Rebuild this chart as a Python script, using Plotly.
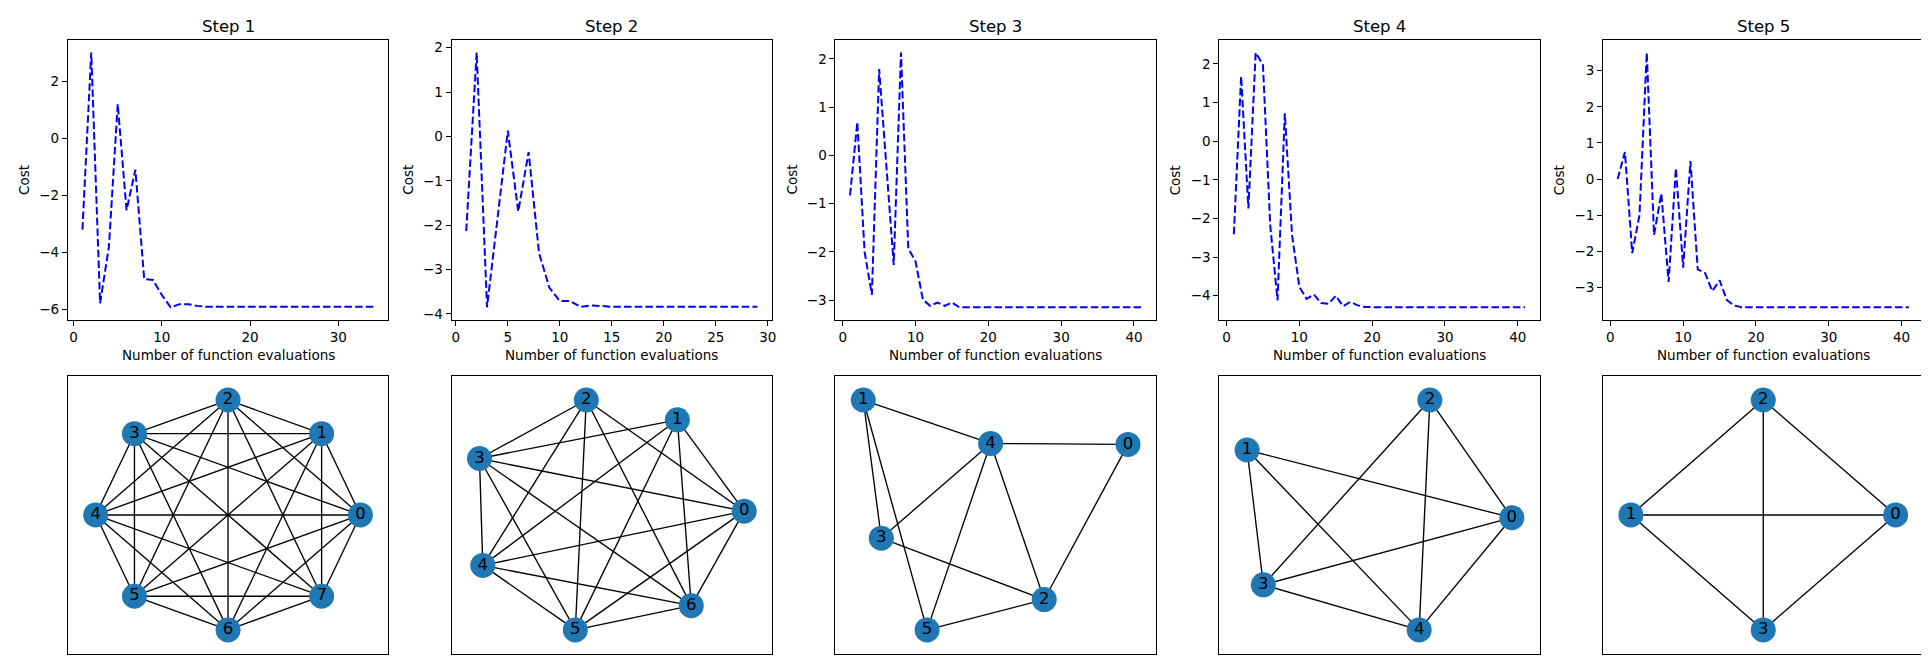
import plotly.graph_objects as go

# ---------------- data ----------------
step_titles = ["Step 1", "Step 2", "Step 3", "Step 4", "Step 5"]

cost_step1 = [-3.2, 3.0, -5.78, -3.8, 1.2, -2.52, -1.1, -4.93, -4.96, -5.49, -5.92, -5.81, -5.81, -5.87,
              -5.9, -5.9, -5.9, -5.9, -5.9, -5.9, -5.9, -5.9, -5.9, -5.9, -5.9, -5.9, -5.9, -5.9, -5.9,
              -5.9, -5.9, -5.9, -5.9, -5.9]
cost_step2 = [-2.13, 1.89, -3.85, -1.9, 0.13, -1.69, -0.35, -2.63, -3.41, -3.71, -3.71, -3.84, -3.81, -3.82,
              -3.84, -3.84, -3.84, -3.84, -3.84, -3.84, -3.84, -3.84, -3.84, -3.84, -3.84, -3.84, -3.84,
              -3.84, -3.84]
cost_step3 = [-0.83, 0.69, -2.0, -2.89, 1.79, -0.3, -2.27, 2.13, -1.93, -2.2, -2.99, -3.12, -3.05, -3.12,
              -3.05, -3.15, -3.15, -3.15, -3.15, -3.15, -3.15, -3.15, -3.15, -3.15, -3.15, -3.15, -3.15,
              -3.15, -3.15, -3.15, -3.15, -3.15, -3.15, -3.15, -3.15, -3.15, -3.15, -3.15, -3.15, -3.15,
              -3.15]
cost_step4 = [-2.41, 1.68, -1.74, 2.29, 1.97, -2.18, -4.12, 0.72, -2.44, -3.77, -4.08, -3.97, -4.19, -4.21,
              -4.0, -4.27, -4.16, -4.25, -4.29, -4.3, -4.3, -4.3, -4.3, -4.3, -4.3, -4.3, -4.3, -4.3, -4.3,
              -4.3, -4.3, -4.3, -4.3, -4.3, -4.3, -4.3, -4.3, -4.3, -4.3, -4.3, -4.3]
cost_step5 = [0.0, 0.75, -2.05, -1.0, 3.5, -1.55, -0.4, -2.85, 0.3, -2.45, 0.5, -2.5, -2.6, -3.1,
              -2.8, -3.35, -3.5, -3.55, -3.55, -3.55, -3.55, -3.55, -3.55, -3.55, -3.55, -3.55, -3.55,
              -3.55, -3.55, -3.55, -3.55, -3.55, -3.55, -3.55, -3.55, -3.55, -3.55, -3.55, -3.55, -3.55,
              -3.55]
costs = [cost_step1, cost_step2, cost_step3, cost_step4, cost_step5]

xtick_vals = [[0, 10, 20, 30],
              [0, 5, 10, 15, 20, 25, 30],
              [0, 10, 20, 30, 40],
              [0, 10, 20, 30, 40],
              [0, 10, 20, 30, 40]]
ytick_vals = [[-6, -4, -2, 0, 2],
              [-4, -3, -2, -1, 0, 1, 2],
              [-3, -2, -1, 0, 1, 2],
              [-4, -3, -2, -1, 0, 1, 2],
              [-3, -2, -1, 0, 1, 2, 3]]

# graph layouts (node positions) and edges for each step
g1_x = [1.0, 0.707, 0.0, -0.707, -1.0, -0.707, 0.0, 0.707]
g1_y = [0.0, 0.707, 1.0, 0.707, 0.0, -0.707, -1.0, -0.707]
g1_edges = [(0, 1), (0, 2), (0, 3), (0, 4), (0, 5), (0, 6), (0, 7),
            (1, 2), (1, 3), (1, 4), (1, 5), (1, 6), (1, 7),
            (2, 3), (2, 4), (2, 5), (2, 6), (2, 7),
            (3, 4), (3, 5), (3, 6), (3, 7),
            (4, 5), (4, 6), (4, 7),
            (5, 6), (5, 7),
            (6, 7)]

g2_x = [1.0, 0.495, -0.193, -1.0, -0.975, -0.276, 0.6]
g2_y = [0.033, 0.828, 1.0, 0.491, -0.439, -1.0, -0.789]
g2_edges = [(0, 1), (0, 2), (0, 3), (0, 4), (0, 5), (0, 6),
            (1, 3), (1, 4), (1, 5), (1, 6),
            (2, 3), (2, 4), (2, 5), (2, 6),
            (3, 4), (3, 5), (3, 6),
            (4, 5), (4, 6), (5, 6)]

g3_x = [1.0, -1.0, 0.367, -0.864, -0.038, -0.518]
g3_y = [0.614, 1.0, -0.736, -0.202, 0.622, -1.0]
g3_edges = [(1, 4), (1, 3), (1, 5), (4, 0), (4, 3), (4, 5), (4, 2), (0, 2), (3, 2), (5, 2)]

g4_x = [1.0, -1.0, 0.381, -0.877, 0.3]
g4_y = [-0.024, 0.565, 1.0, -0.608, -1.0]
g4_edges = [(0, 1), (0, 2), (0, 3), (0, 4), (1, 3), (1, 4), (2, 3), (2, 4), (3, 4)]

g5_x = [1.0, -1.0, 0.0, 0.0]
g5_y = [0.0, 0.0, 1.0, -1.0]
g5_edges = [(0, 1), (0, 2), (0, 3), (1, 2), (1, 3), (2, 3)]

graphs = [(g1_x, g1_y, g1_edges), (g2_x, g2_y, g2_edges), (g3_x, g3_y, g3_edges),
          (g4_x, g4_y, g4_edges), (g5_x, g5_y, g5_edges)]

# ---------------- layout geometry (pixels) ----------------
W, H = 1929, 658
PANEL_LEFT0 = 60.0
PANEL_STEP = 384.6
PANEL_W = 321.0
TOP_ROW = (32.0, 313.0)
BOT_ROW = (369.0, 648.0)
FONT = "DejaVu Sans"

def px_to_xdom(a, b):
    return [a / W, b / W]

def px_to_ydom(top, bottom):
    return [1 - bottom / H, 1 - top / H]

def mpl_range(vals, frac=0.05):
    lo, hi = min(vals), max(vals)
    m = (hi - lo) * frac
    return [lo - m, hi + m]

fig = go.Figure()
layout = dict(width=W, height=H, margin=dict(l=0, r=0, t=0, b=0), autosize=False,
              paper_bgcolor="white", plot_bgcolor="white", showlegend=False,
              font=dict(family=FONT, color="black", size=13.5))
annotations = []

axis_common = dict(showline=True, linecolor="black", linewidth=1.1, mirror=True,
                   showgrid=False, zeroline=False)

for i in range(5):
    left = PANEL_LEFT0 + PANEL_STEP * i
    right = left + PANEL_W
    k = i + 1
    cost = costs[i]
    evals = list(range(1, len(cost) + 1))
    fig.add_trace(go.Scatter(x=evals, y=cost, mode="lines",
                             line=dict(color="blue", width=2, dash="7.5px,3.2px"),
                             xaxis=f"x{k}", yaxis=f"y{k}", hoverinfo="skip"))
    layout[f"xaxis{k}"] = dict(domain=px_to_xdom(left, right), anchor=f"y{k}",
                               range=mpl_range(evals), tickvals=xtick_vals[i],
                               ticks="outside", ticklen=5, tickwidth=1.1, tickcolor="black",
                               tickfont=dict(size=13.5, family=FONT, color="black"), **axis_common)
    layout[f"yaxis{k}"] = dict(domain=px_to_ydom(*TOP_ROW), anchor=f"x{k}",
                               range=mpl_range(cost), tickvals=ytick_vals[i],
                               ticks="outside", ticklen=5, tickwidth=1.1, tickcolor="black",
                               tickfont=dict(size=13.5, family=FONT, color="black"), **axis_common)
    cx = (left + right) / 2 / W
    annotations.append(dict(text=step_titles[i], x=cx, y=1 - 18.3 / H, xref="paper", yref="paper",
                            showarrow=False, xanchor="center", yanchor="middle",
                            font=dict(size=16.5, family=FONT, color="black")))
    annotations.append(dict(text="Number of function evaluations", x=cx, y=1 - 348.3 / H,
                            xref="paper", yref="paper", showarrow=False, xanchor="center",
                            yanchor="middle", font=dict(size=13.5, family=FONT, color="black")))
    annotations.append(dict(text="Cost", x=(left - 44) / W, y=1 - (TOP_ROW[0] + TOP_ROW[1]) / 2 / H,
                            xref="paper", yref="paper", showarrow=False, xanchor="center",
                            yanchor="middle", textangle=-90,
                            font=dict(size=13.5, family=FONT, color="black")))

    # graph panel
    gx, gy, edges = graphs[i]
    kb = i + 6
    ex, ey = [], []
    for a, b in edges:
        ex += [gx[a], gx[b], None]
        ey += [gy[a], gy[b], None]
    fig.add_trace(go.Scatter(x=ex, y=ey, mode="lines", line=dict(color="black", width=1.35),
                             xaxis=f"x{kb}", yaxis=f"y{kb}", hoverinfo="skip"))
    fig.add_trace(go.Scatter(x=gx, y=gy, mode="markers+text",
                             marker=dict(size=25, color="#1f77b4", line=dict(width=0)),
                             text=[str(n) for n in range(len(gx))], textposition="middle center",
                             textfont=dict(size=16.5, family=FONT, color="black"),
                             xaxis=f"x{kb}", yaxis=f"y{kb}", hoverinfo="skip"))
    layout[f"xaxis{kb}"] = dict(domain=px_to_xdom(left, right), anchor=f"y{kb}",
                                range=mpl_range(gx, 0.105), showticklabels=False, ticks="",
                                **axis_common)
    layout[f"yaxis{kb}"] = dict(domain=px_to_ydom(*BOT_ROW), anchor=f"x{kb}",
                                range=mpl_range(gy, 0.105), showticklabels=False, ticks="",
                                **axis_common)

layout["annotations"] = annotations
fig.update_layout(**layout)
fig.write_html("out.html")
